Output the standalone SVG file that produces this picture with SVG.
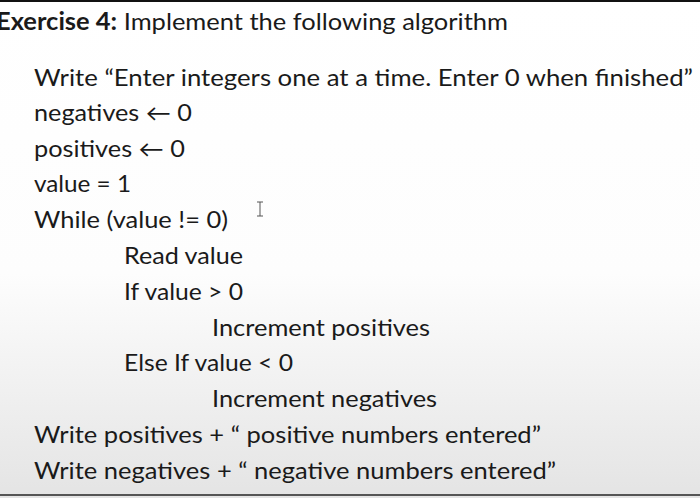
<svg xmlns="http://www.w3.org/2000/svg" width="700" height="498" viewBox="0 0 700 498">
<defs>
<linearGradient id="bg" x1="0" y1="0" x2="0" y2="1">
<stop offset="0" stop-color="#ffffff"/>
<stop offset="0.55" stop-color="#fdfdfd"/>
<stop offset="1" stop-color="#e4e4e4"/>
</linearGradient>
</defs>
<style>
text{font-family:Lato,"Open Sans",sans-serif;font-size:23px;fill:#1a1a1a}
.t{font-size:24px}
</style>
<rect width="700" height="498" fill="url(#bg)"/>
<rect x="0" y="0" width="700" height="2" fill="#111"/>
<rect x="0" y="494" width="700" height="2" fill="#555"/>
<text class="t" x="-4" y="30" textLength="512" lengthAdjust="spacingAndGlyphs"><tspan font-weight="bold">Exercise 4:</tspan>  Implement the following algorithm</text>
<g lengthAdjust="spacingAndGlyphs">
<text x="34" y="86" textLength="659" lengthAdjust="spacingAndGlyphs">Write “Enter integers one at a time.  Enter 0 when finished”</text>
<text x="34" y="121" textLength="158" lengthAdjust="spacingAndGlyphs">negatives ← 0</text>
<text x="34" y="157" textLength="151" lengthAdjust="spacingAndGlyphs">positives ← 0</text>
<text x="34" y="192" textLength="97" lengthAdjust="spacingAndGlyphs">value = 1</text>
<text x="34" y="228" textLength="194" lengthAdjust="spacingAndGlyphs">While (value != 0)</text>
<text x="124" y="264" textLength="119" lengthAdjust="spacingAndGlyphs">Read value</text>
<text x="124" y="300" textLength="119" lengthAdjust="spacingAndGlyphs">If value &gt; 0</text>
<text x="212" y="336" textLength="218" lengthAdjust="spacingAndGlyphs">Increment positives</text>
<text x="124" y="371" textLength="169" lengthAdjust="spacingAndGlyphs">Else If value &lt; 0</text>
<text x="212" y="407" textLength="225" lengthAdjust="spacingAndGlyphs">Increment negatives</text>
<text x="34" y="443" textLength="507" lengthAdjust="spacingAndGlyphs">Write positives + “ positive numbers entered”</text>
<text x="34" y="479" textLength="522" lengthAdjust="spacingAndGlyphs">Write negatives + “ negative numbers entered”</text>
</g>
<path d="M257 202h6M257 216h6M260 202v14" stroke="#555" stroke-width="1" fill="none"/>
</svg>
